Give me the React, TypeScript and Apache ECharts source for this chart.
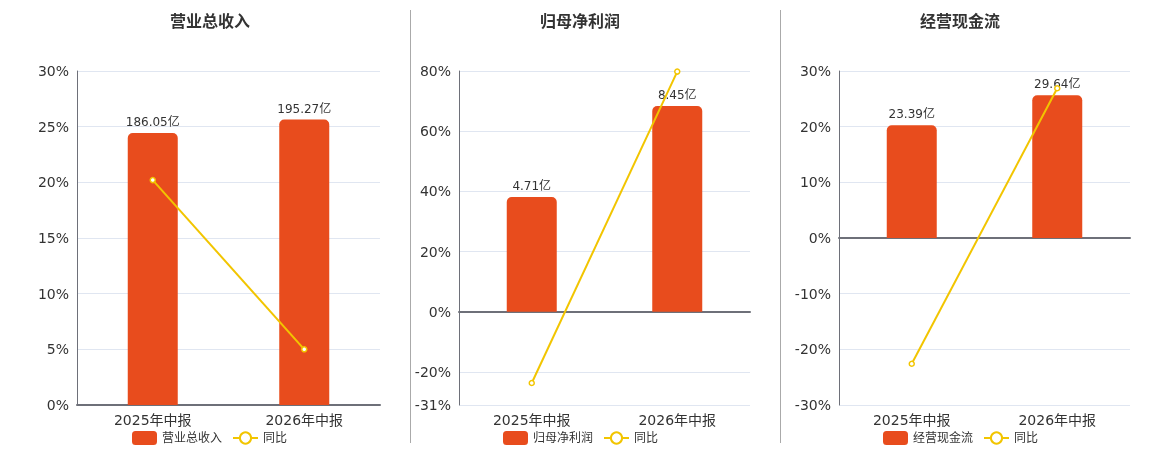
import { useEffect, useRef } from 'react';
import * as echarts from 'echarts';

const periods = ['2025年中报', '2026年中报'];
const panelTitles = ['营业总收入', '归母净利润', '经营现金流'];

// amounts, in 亿
const revenue = [186.05, 195.27];
const netProfit = [4.71, 8.45];
const operatingCash = [23.39, 29.64];

// year-on-year, in %
const revenueYoy = [20.2, 5.0];
const netProfitYoy = [-23.7, 79.8];
const operatingCashYoy = [-22.6, 26.9];

// percent axis extents: [min, max, interval]
const pctAxes: [number, number, number | undefined][] = [
  [0, 30, 5],
  [-31, 80, undefined],
  [-30, 30, 10],
];

const BAR_COLOR = '#E84C1D';
const LINE_COLOR = '#F2C500';
const AXIS_COLOR = '#6E7079';

const grids = [
  { left: 77, top: 71, width: 303, height: 334 },
  { left: 459, top: 71, width: 291, height: 334 },
  { left: 839, top: 71, width: 291, height: 334 },
];
const titleLeft = [165, 535, 915];
const legendLeft = [127, 498, 878];

export default function App(): JSX.Element {
  const chartRef = useRef<HTMLDivElement>(null);

  useEffect(() => {
    if (!chartRef.current) return;
    const chart = echarts.init(chartRef.current, undefined, { renderer: 'svg' });

    const amounts = [revenue, netProfit, operatingCash];
    const yoys = [revenueYoy, netProfitYoy, operatingCashYoy];

    const xAxis: any[] = [];
    const yAxis: any[] = [];
    const series: any[] = [];

    panelTitles.forEach((name, i) => {
      const [pMin, pMax, pInt] = pctAxes[i];
      const barMax = Math.max(...amounts[i]) * 1.17;
      const barMin = (barMax * pMin) / pMax;

      xAxis.push({
        type: 'category',
        gridIndex: i,
        data: periods,
        axisLine: { lineStyle: { color: AXIS_COLOR, width: 2 } },
        axisTick: { lineStyle: { color: AXIS_COLOR } },
        axisLabel: { fontSize: 14, color: '#333', margin: 8 },
      });
      yAxis.push({
        type: 'value',
        gridIndex: i,
        min: pMin,
        max: pMax,
        interval: pInt,
        axisLine: { show: true, lineStyle: { color: AXIS_COLOR } },
        axisTick: { show: false },
        axisLabel: { fontSize: 14, color: '#333', formatter: '{value}%' },
        splitLine: { lineStyle: { color: '#E0E6F1' } },
      });
      yAxis.push({
        type: 'value',
        gridIndex: i,
        min: barMin,
        max: barMax,
        show: false,
        splitLine: { show: false },
      });

      series.push({
        name,
        type: 'bar',
        xAxisIndex: i,
        yAxisIndex: i * 2 + 1,
        data: amounts[i],
        barWidth: 50,
        itemStyle: { color: BAR_COLOR, borderRadius: [5, 5, 0, 0] },
        label: {
          show: true,
          position: 'top',
          fontSize: 12,
          color: '#333',
          formatter: (p: any) => `${p.value.toFixed(2)}亿`,
        },
      });
      series.push({
        name: '同比',
        type: 'line',
        xAxisIndex: i,
        yAxisIndex: i * 2,
        data: yoys[i],
        symbol: 'circle',
        symbolSize: 5,
        lineStyle: { color: LINE_COLOR, width: 2 },
        itemStyle: { color: '#fff', borderColor: LINE_COLOR, borderWidth: 1.5 },
        z: 3,
      });
    });

    chart.setOption({
      animation: false,
      textStyle: { fontFamily: "'DejaVu Sans', 'Noto Sans CJK SC', sans-serif" },
      title: panelTitles.map((text, i) => ({
        text,
        left: titleLeft[i],
        top: 8,
        textStyle: { fontSize: 16, fontWeight: 'bold', color: '#333' },
      })),
      legend: panelTitles.map((name, i) => ({
        data: [name, { name: '同比', itemStyle: { color: '#fff', borderColor: LINE_COLOR, borderWidth: 2 } }],
        left: legendLeft[i],
        top: 426,
        itemWidth: 25,
        itemHeight: 14,
        itemGap: 10,
        textStyle: { fontSize: 12, color: '#333' },
      })),
      grid: grids,
      xAxis,
      yAxis,
      series,
      graphic: [410.5, 780.5].map((x) => ({
        type: 'line',
        shape: { x1: x, y1: 10, x2: x, y2: 443 },
        style: { stroke: '#AAAAAA', lineWidth: 1 },
      })),
    });

    return () => {
      chart.dispose();
    };
  }, []);

  return (
    <div
      ref={chartRef}
      style={{ position: 'fixed', left: 0, top: 0, width: 1160, height: 450 }}
    />
  );
}
